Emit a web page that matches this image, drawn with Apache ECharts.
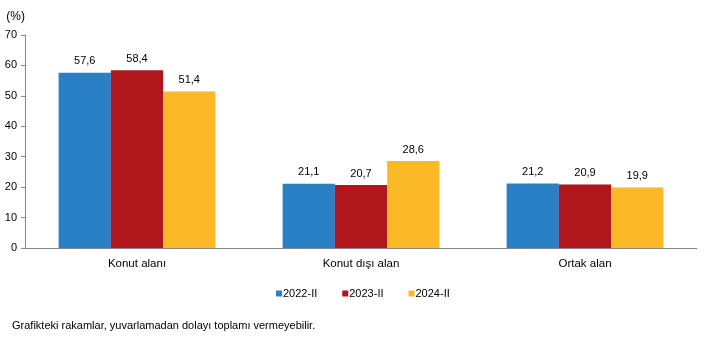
<!DOCTYPE html>
<html><head><meta charset="utf-8">
<script src="https://cdn.jsdelivr.net/npm/echarts@6/dist/echarts.min.js"></script>
<style>html,body{margin:0;padding:0;background:#fff}#c{width:705px;height:351px}</style>
</head><body><div id="c"></div>
<script>
const categories = ['Konut alanı', 'Konut dışı alan', 'Ortak alan'];
const seriesNames = ['2022-II', '2023-II', '2024-II'];
const v2022 = [57.6, 21.1, 21.2];
const v2023 = [58.4, 20.7, 20.9];
const v2024 = [51.4, 28.6, 19.9];
const colors = ['#2a80c5', '#b0171c', '#fbb927'];
const yTicks = [0, 10, 20, 30, 40, 50, 60, 70];
const font = 'Liberation Sans, Arial, sans-serif';
const chart = echarts.init(document.getElementById('c'));
const mk = (name, data, color) => ({
  name, type: 'bar', data, barGap: '0%', barCategoryGap: '30%',
  itemStyle: { color },
  label: { show: true, position: 'top', distance: 6, color: '#000', fontFamily: font, fontSize: 11,
    formatter: p => p.value.toFixed(1).replace('.', ',') }
});
chart.setOption({
  animation: false,
  textStyle: { fontFamily: font },
  grid: { left: 25, right: 8, top: 35, bottom: 103, containLabel: false },
  legend: {
    data: seriesNames, top: 283, left: 271, itemWidth: 6, itemHeight: 6, itemGap: 25,
    icon: 'rect', textStyle: { color: '#000', fontSize: 11, fontFamily: font, padding: [0, 0, 0, -4] }
  },
  xAxis: {
    type: 'category', data: categories,
    axisLine: { lineStyle: { color: '#888' } }, axisTick: { show: false },
    axisLabel: { color: '#000', fontSize: 11.5, fontFamily: font, margin: 10 }
  },
  yAxis: {
    type: 'value', min: 0, max: 70, interval: 10,
    name: '(%)', nameLocation: 'end', nameGap: 12,
    nameTextStyle: { color: '#000', fontSize: 12, fontFamily: font, align: 'right' },
    axisLine: { show: true, lineStyle: { color: '#888' } },
    axisTick: { show: true, inside: false, length: 4, lineStyle: { color: '#888' } },
    splitLine: { show: false },
    axisLabel: { color: '#000', fontSize: 11, fontFamily: font, margin: 8,
      formatter: v => yTicks.includes(v) ? String(v) : '' }
  },
  series: [mk(seriesNames[0], v2022, colors[0]), mk(seriesNames[1], v2023, colors[1]), mk(seriesNames[2], v2024, colors[2])],
  graphic: [{ type: 'text', left: 12, top: 320, style: { text: 'Grafikteki rakamlar, yuvarlamadan dolayı toplamı vermeyebilir.', fill: '#000', font: '11px ' + font } }]
});
</script></body></html>
